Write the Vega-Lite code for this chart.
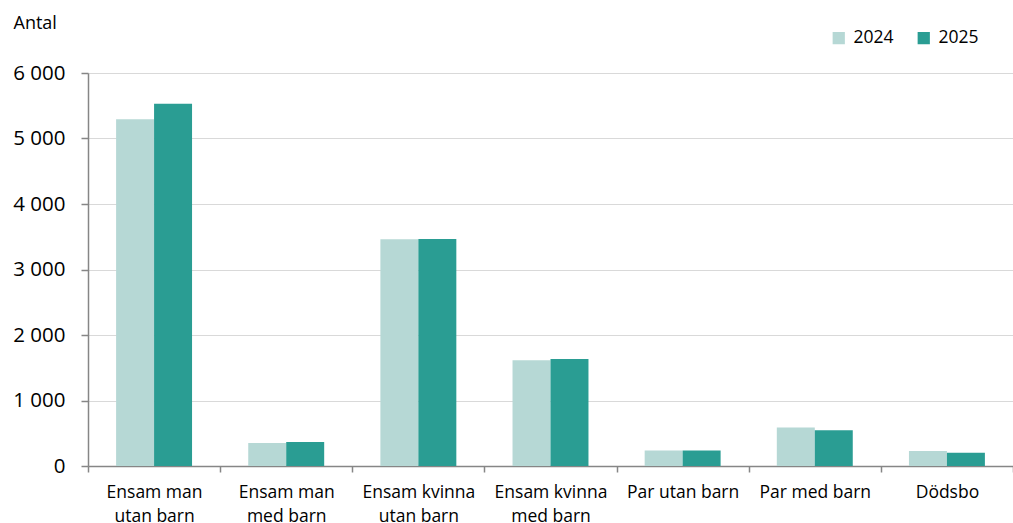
{
  "$schema": "https://vega.github.io/schema/vega-lite/v6.json",
  "width": 925,
  "height": 393,
  "autosize": {"type": "none"},
  "padding": {"left": 88, "top": 73, "right": 0, "bottom": 57},
  "background": "white",
  "config": {"view": {"stroke": null}, "font": "Open Sans"},
  "data": {
    "values": [
      {"category": "Ensam man utan barn", "year": "2024", "value": 5295},
      {"category": "Ensam man utan barn", "year": "2025", "value": 5530},
      {"category": "Ensam man med barn", "year": "2024", "value": 352},
      {"category": "Ensam man med barn", "year": "2025", "value": 366},
      {"category": "Ensam kvinna utan barn", "year": "2024", "value": 3460},
      {"category": "Ensam kvinna utan barn", "year": "2025", "value": 3465},
      {"category": "Ensam kvinna med barn", "year": "2024", "value": 1615},
      {"category": "Ensam kvinna med barn", "year": "2025", "value": 1634},
      {"category": "Par utan barn", "year": "2024", "value": 235},
      {"category": "Par utan barn", "year": "2025", "value": 236},
      {"category": "Par med barn", "year": "2024", "value": 586},
      {"category": "Par med barn", "year": "2025", "value": 546},
      {"category": "Dödsbo", "year": "2024", "value": 229},
      {"category": "Dödsbo", "year": "2025", "value": 203}
    ]
  },
  "mark": {"type": "bar"},
  "encoding": {
    "x": {
      "field": "category",
      "type": "nominal",
      "sort": ["Ensam man utan barn", "Ensam man med barn", "Ensam kvinna utan barn", "Ensam kvinna med barn", "Par utan barn", "Par med barn", "Dödsbo"],
      "scale": {"paddingInner": 0, "paddingOuter": 0},
      "axis": {
        "title": null,
        "labelAngle": 0,
        "tickBand": "extent",
        "labelFontSize": 17.5,
        "labelColor": "#000000",
        "labelPadding": 11,
        "labelLineHeight": 24,
        "labelBaseline": "top",
        "tickSize": 6,
        "tickColor": "#868686",
        "domainColor": "#868686",
        "domainWidth": 1.5,
        "tickWidth": 1.5,
        "grid": false,
        "labelExpr": "datum.value == 'Ensam man utan barn' ? ['Ensam man', 'utan barn'] : datum.value == 'Ensam man med barn' ? ['Ensam man', 'med barn'] : datum.value == 'Ensam kvinna utan barn' ? ['Ensam kvinna', 'utan barn'] : datum.value == 'Ensam kvinna med barn' ? ['Ensam kvinna', 'med barn'] : datum.value"
      }
    },
    "xOffset": {
      "field": "year",
      "type": "nominal",
      "scale": {"paddingInner": 0, "paddingOuter": 0.74}
    },
    "y": {
      "field": "value",
      "type": "quantitative",
      "scale": {"domain": [0, 6000]},
      "axis": {
        "values": [0, 1000, 2000, 3000, 4000, 5000, 6000],
        "labelExpr": "replace(format(datum.value, ','), ',', ' ')",
        "labelFontSize": 20.5,
        "labelColor": "#000000",
        "labelPadding": 16,
        "tickSize": 7,
        "tickColor": "#868686",
        "tickWidth": 1.5,
        "domainColor": "#868686",
        "domainWidth": 1.5,
        "gridColor": "#d9d9d9",
        "gridWidth": 1,
        "title": "Antal",
        "titleAngle": 0,
        "titleAlign": "left",
        "titleBaseline": "alphabetic",
        "titleX": -75,
        "titleY": -45,
        "titleFontSize": 18,
        "titleFontWeight": "normal",
        "titleColor": "#000000"
      }
    },
    "color": {
      "field": "year",
      "type": "nominal",
      "scale": {"domain": ["2024", "2025"], "range": ["#b6d8d5", "#2a9d93"]},
      "legend": {
        "title": null,
        "orient": "none",
        "legendX": 742,
        "legendY": -44,
        "direction": "horizontal",
        "padding": 0,
        "symbolType": "square",
        "symbolSize": 150,
        "symbolStrokeWidth": 0,
        "labelFontSize": 17.5,
        "labelColor": "#000000",
        "labelOffset": 6,
        "columnPadding": 21
      }
    }
  }
}
